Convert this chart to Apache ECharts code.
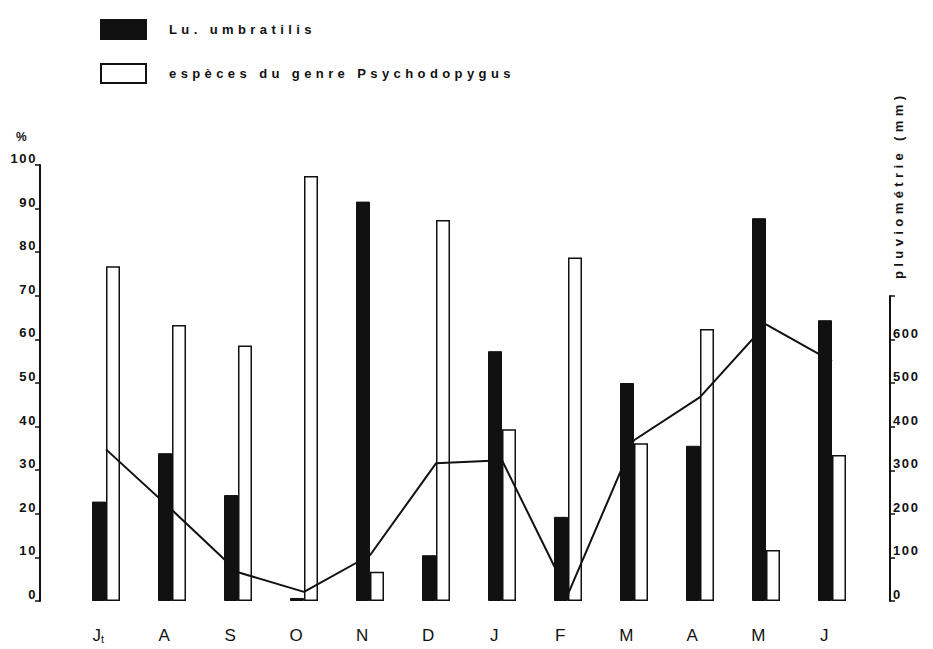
<!DOCTYPE html>
<html><head><meta charset="utf-8">
<script src="https://cdn.jsdelivr.net/npm/echarts@6/dist/echarts.min.js"></script>
<style>
html,body{margin:0;padding:0;background:#fff}
#c{width:933px;height:649px}
#c text{letter-spacing:1.6px}
#c text[style*="SpacedA"]{letter-spacing:4.4px}
</style></head><body><div id="c"></div>
<script>
const months = ['Jt','A','S','O','N','D','J','F','M','A','M','J'];
const luUmbratilis = [22.8, 33.9, 24.3, 0.7, 91.6, 10.5, 57.3, 19.3, 50, 35.6, 87.8, 64.4];
const psychodopygus = [76.8, 63.3, 58.6, 97.5, 6.7, 87.4, 39.4, 78.8, 36.2, 62.4, 11.7, 33.5];
const pluviometrie = [348, 209, 66, 21, 105, 316, 323, 16, 369, 468, 635, 550];
const pctTicks = [0, 10, 20, 30, 40, 50, 60, 70, 80, 90, 100];
const rainTicks = [0, 100, 200, 300, 400, 500, 600];
const seriesNames = ['Lu. umbratilis', 'espèces du genre Psychodopygus', 'pluviométrie'];

const chart = echarts.init(document.getElementById('c'), null, {renderer: 'svg'});
const axisFont = {fontFamily: 'Liberation Sans, Arial, sans-serif', fontWeight: 'bold', fontSize: 13, color: '#111'};
const gridL = 73, gridR = 68, gridBottom = 48;
chart.setOption({
  animation: false,
  backgroundColor: '#fff',
  legend: {
    data: [seriesNames[0], seriesNames[1]],
    orient: 'vertical', left: 95, top: 14,
    itemWidth: 45, itemHeight: 19, itemGap: 23,
    icon: 'rect',
    textStyle: {fontFamily: 'Liberation Sans, SpacedA, Arial', fontWeight: 'bold', fontSize: 13, color: '#111', padding: [0, 0, 0, 18]}
  },
  graphic: [
    {type: 'text', left: 16, top: 131, style: {text: '%', font: 'bold 12px Liberation Sans', fill: '#111'}},
    {type: 'text', x: 898, y: 279, rotation: Math.PI / 2,
     style: {text: 'pluviométrie (mm)', fontFamily: 'Liberation Sans, SpacedA, Arial', fontWeight: 'bold', fontSize: 13, fill: '#111', textAlign: 'left', textVerticalAlign: 'middle'}}
  ],
  grid: [
    {left: gridL, right: gridR, top: 165, bottom: gridBottom},
    {left: gridL, right: gridR, top: 296, bottom: gridBottom}
  ],
  xAxis: [
    {type: 'category', gridIndex: 0, data: months,
     axisLine: {show: false}, axisTick: {show: false},
     axisLabel: {margin: 26, padding: [0, 14, 0, 0], fontFamily: 'Liberation Sans, Arial', fontSize: 17, color: '#111',
       formatter: function (v) { return v === 'Jt' ? 'J{s|t}' : v; },
       rich: {s: {fontSize: 11, fontFamily: 'Liberation Sans, Arial', color: '#111', padding: [6, 0, 0, 0]}}}},
    {type: 'category', gridIndex: 1, data: months, show: false}
  ],
  yAxis: [
    {type: 'value', gridIndex: 0, min: pctTicks[0], max: pctTicks[pctTicks.length - 1], interval: 10,
     offset: 33, position: 'left',
     axisLine: {show: true, onZero: false, lineStyle: {color: '#111', width: 2}},
     axisTick: {show: true, length: 5, lineStyle: {color: '#111', width: 1.5}},
     splitLine: {show: false},
     axisLabel: Object.assign({margin: 3, verticalAlign: 'bottom', formatter: function (v) { return pctTicks.indexOf(v) >= 0 ? String(v) : ''; }}, axisFont)},
    {type: 'value', gridIndex: 1, min: 0, max: 700, interval: 100,
     offset: 25, position: 'right',
     axisLine: {show: true, onZero: false, lineStyle: {color: '#111', width: 2}},
     axisTick: {show: true, length: 5, lineStyle: {color: '#111', width: 1.5}},
     splitLine: {show: false},
     axisLabel: Object.assign({margin: 3, verticalAlign: 'bottom', formatter: function (v) { return rainTicks.indexOf(v) >= 0 ? String(v) : ''; }}, axisFont)}
  ],
  series: [
    {name: seriesNames[0], type: 'bar', xAxisIndex: 0, yAxisIndex: 0, data: luUmbratilis,
     barWidth: 14, barGap: '0%', itemStyle: {color: '#111', borderColor: '#111', borderWidth: 1}},
    {name: seriesNames[1], type: 'bar', xAxisIndex: 0, yAxisIndex: 0, data: psychodopygus,
     barWidth: 14, barGap: '0%', itemStyle: {color: '#fff', borderColor: '#111', borderWidth: 1.5}},
    {name: seriesNames[2], type: 'line', xAxisIndex: 1, yAxisIndex: 1, data: pluviometrie,
     symbol: 'none', lineStyle: {color: '#111', width: 2}, z: 5}
  ]
});
</script></body></html>
